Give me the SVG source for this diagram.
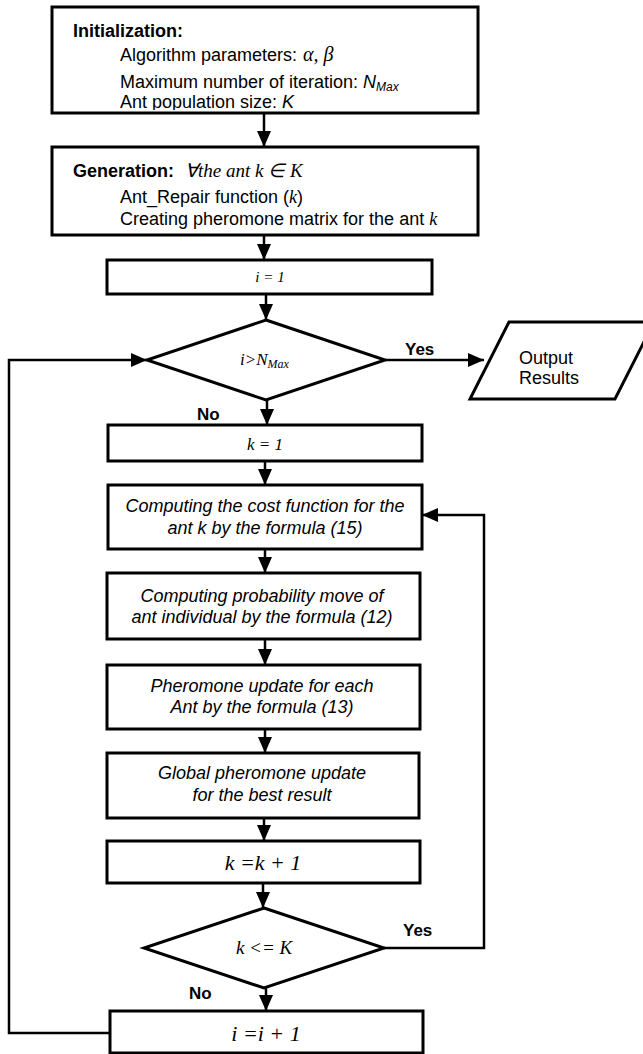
<svg xmlns="http://www.w3.org/2000/svg" width="643" height="1054" viewBox="0 0 643 1054">
<style>
.box{fill:#fff;stroke:#000;stroke-width:3}
.ln{fill:none;stroke:#000;stroke-width:2.5}
.t{font-family:"Liberation Sans",Arial,sans-serif;font-size:18px;fill:#000}
.b{font-weight:bold}
.it{font-style:italic}
.m{font-family:"Liberation Serif","Times New Roman",serif;font-style:italic;fill:#000}
.c{text-anchor:middle}
.lbl{font-family:"Liberation Sans",Arial,sans-serif;font-size:17px;font-weight:bold;fill:#000}
</style>
<defs>
<marker id="ah" viewBox="0 0 16 14" refX="16" refY="7" markerWidth="16" markerHeight="14" markerUnits="userSpaceOnUse" orient="auto">
<path d="M0,0 L16,7 L0,14 z" fill="#000"/>
</marker>
<clipPath id="cInit"><rect x="52" y="7" width="426" height="103"/></clipPath>
<clipPath id="cGen"><rect x="52" y="147" width="426" height="82"/></clipPath>
</defs>

<g id="connectors">
<path class="ln" d="M264,113 V147" marker-end="url(#ah)"/>
<path class="ln" d="M264,235 V260" marker-end="url(#ah)"/>
<path class="ln" d="M266,294 V320" marker-end="url(#ah)"/>
<path class="ln" d="M385,360 H484" marker-end="url(#ah)"/>
<path class="ln" d="M267,400 V425" marker-end="url(#ah)"/>
<path class="ln" d="M265,461 V485" marker-end="url(#ah)"/>
<path class="ln" d="M265,549 V573" marker-end="url(#ah)"/>
<path class="ln" d="M265,639 V665" marker-end="url(#ah)"/>
<path class="ln" d="M265,729 V753" marker-end="url(#ah)"/>
<path class="ln" d="M264,818 V841" marker-end="url(#ah)"/>
<path class="ln" d="M263,883 V908" marker-end="url(#ah)"/>
<path class="ln" d="M266,988 V1011" marker-end="url(#ah)"/>
<path class="ln" d="M384,948 H484 V515 H422" marker-end="url(#ah)"/>
<path class="ln" d="M110,1033 H9 V360 H147" marker-end="url(#ah)"/>
<text class="lbl" x="405" y="355">Yes</text>
<text class="lbl" x="197" y="420">No</text>
<text class="lbl" x="403" y="936">Yes</text>
<text class="lbl" x="189" y="999">No</text>
</g>

<g id="init">
<rect class="box" x="52" y="7" width="426" height="106"/>
<g clip-path="url(#cInit)">
<text class="t b" x="73" y="37">Initialization:</text>
<text class="t" x="120" y="61">Algorithm parameters:</text>
<text class="m" x="303" y="61" font-size="20">α, β</text>
<text class="t" x="120" y="88">Maximum number of iteration: <tspan class="it">N</tspan><tspan class="it" font-size="12" dy="3">Max</tspan></text>
<text class="t" x="120" y="108">Ant population size: <tspan class="it">K</tspan></text>
</g>
</g>

<g id="generation">
<rect class="box" x="52" y="147" width="426" height="88"/>
<g clip-path="url(#cGen)">
<text class="t b" x="73" y="177">Generation:</text>
<text class="m" x="185" y="177" font-size="19">∀the ant k ∈ K</text>
<text class="t" x="120" y="203">Ant_Repair function (<tspan class="m">k</tspan>)</text>
<text class="t" x="120" y="225">Creating pheromone matrix for the ant <tspan class="m">k</tspan></text>
</g>
</g>

<g id="i1">
<rect class="box" x="107" y="260" width="325" height="34"/>
<text class="m c" x="270" y="282" font-size="15">i = 1</text>
</g>

<g id="cond1">
<polygon class="box" points="266,320 385,360 266,400 147,360"/>
<text class="m" x="240" y="365" font-size="17">i&gt;N<tspan font-size="12" dy="3">Max</tspan></text>
</g>

<g id="output">
<polygon class="box" points="509,322 654,322 615,399 470,399"/>
<text class="t" x="519" y="364">Output</text>
<text class="t" x="519" y="384">Results</text>
</g>

<g id="k1">
<rect class="box" x="108" y="425" width="314" height="36"/>
<text class="m c" x="265" y="450" font-size="17">k = 1</text>
</g>

<g id="cost">
<rect class="box" x="108" y="485" width="314" height="64"/>
<text class="t it c" x="265" y="512">Computing the cost function for the</text>
<text class="t it c" x="265" y="534">ant k by the formula (15)</text>
</g>

<g id="prob">
<rect class="box" x="107" y="573" width="313" height="66"/>
<text class="t it c" x="262" y="602">Computing probability move of</text>
<text class="t it c" x="262" y="623">ant individual by the formula (12)</text>
</g>

<g id="pher">
<rect class="box" x="107" y="665" width="313" height="64"/>
<text class="t it c" x="262" y="692">Pheromone update for each</text>
<text class="t it c" x="262" y="713">Ant by the formula (13)</text>
</g>

<g id="global">
<rect class="box" x="107" y="753" width="312" height="65"/>
<text class="t it c" x="262" y="779">Global pheromone update</text>
<text class="t it c" x="262" y="801">for the best result</text>
</g>

<g id="kinc">
<rect class="box" x="107" y="841" width="313" height="42"/>
<text class="m c" x="263" y="870" font-size="22">k =k + 1</text>
</g>

<g id="cond2">
<polygon class="box" points="264,908 384,948 264,988 144,948"/>
<text class="m c" x="264" y="954" font-size="19">k &lt;= K</text>
</g>

<g id="iinc">
<rect class="box" x="110" y="1011" width="313" height="42"/>
<text class="m c" x="266" y="1041" font-size="22">i =i + 1</text>
</g>
</svg>
